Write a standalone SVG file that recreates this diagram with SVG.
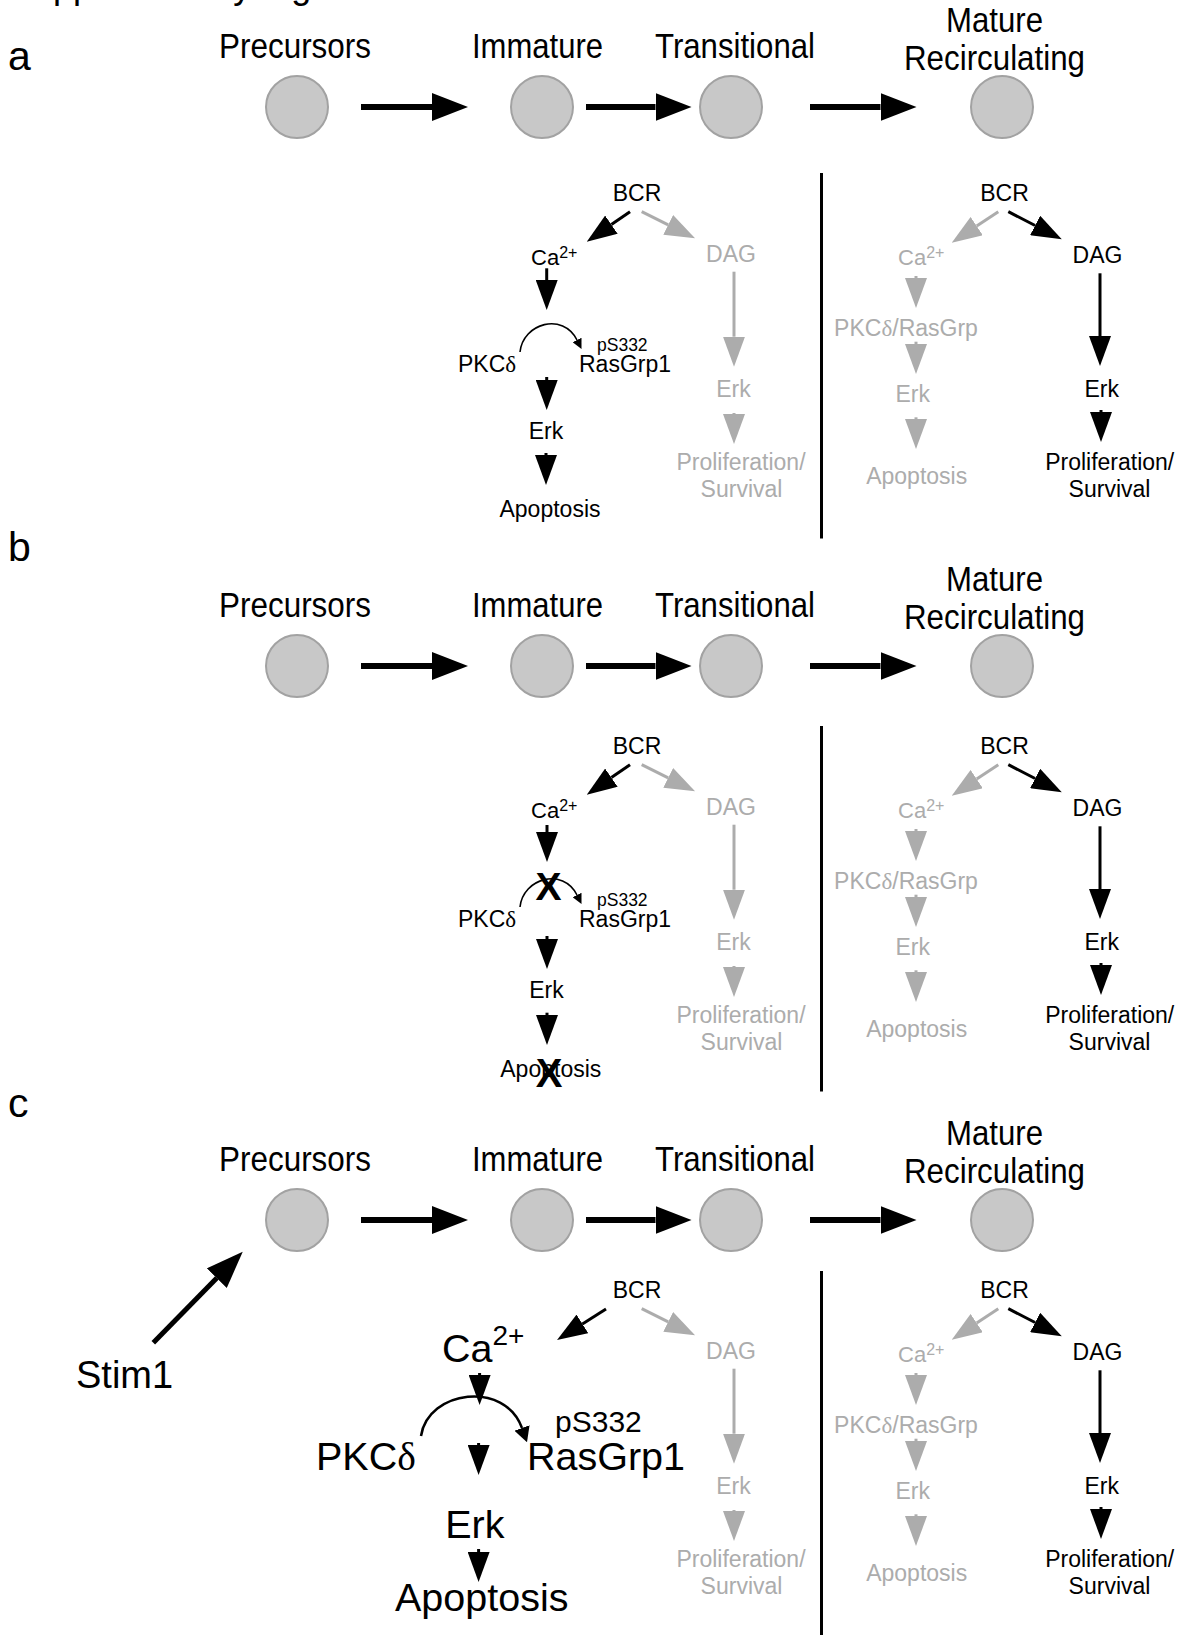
<svg xmlns="http://www.w3.org/2000/svg" width="1181" height="1635" viewBox="0 0 1181 1635">
<style>
text{font-family:"Liberation Sans",Arial,Helvetica,sans-serif;fill:#000}
.stage{font-size:35px}
.lab{font-size:41px}
.s{font-size:23px}
.sup{font-size:16px}
.sm{font-size:17.5px}
.big{font-size:39.5px}
.bsup{font-size:28px}
.gr{fill:#acacac}
.mid{text-anchor:middle}
.delta{font-family:"Liberation Serif","Times New Roman",serif}
.xm{font-size:39px;font-weight:bold;text-anchor:middle}
.cell{fill:#c8c8c8;stroke:#a2a2a2;stroke-width:2}
.top{stroke:#000;stroke-width:6;fill:none}
.k{stroke:#000;stroke-width:3;fill:none}
.g{stroke:#acacac;stroke-width:3;fill:none}
.cv{stroke:#000;stroke-width:1.6;fill:none}
.cvb{stroke:#000;stroke-width:2.5;fill:none}
.div{stroke:#000;stroke-width:3}
</style>
<defs>
<marker id="hTop" markerUnits="userSpaceOnUse" markerWidth="36" markerHeight="28" refX="0" refY="14" orient="auto"><path d="M0,0 L36,14 L0,28 Z" fill="#000"/></marker>
<marker id="hK" markerUnits="userSpaceOnUse" markerWidth="30" markerHeight="22" refX="0" refY="11" orient="auto"><path d="M0,0 L30,11 L0,22 Z" fill="#000"/></marker>
<marker id="hG" markerUnits="userSpaceOnUse" markerWidth="30" markerHeight="22" refX="0" refY="11" orient="auto"><path d="M0,0 L30,11 L0,22 Z" fill="#acacac"/></marker>
<marker id="hS" markerUnits="userSpaceOnUse" markerWidth="10" markerHeight="10" refX="0" refY="5" orient="auto"><path d="M0,0 L10,5 L0,10 Z" fill="#000"/></marker>
<marker id="hSB" markerUnits="userSpaceOnUse" markerWidth="15" markerHeight="16" refX="0" refY="8" orient="auto"><path d="M0,0 L15,8 L0,16 Z" fill="#000"/></marker>
<marker id="hStim" markerUnits="userSpaceOnUse" markerWidth="37" markerHeight="28" refX="0" refY="14" orient="auto"><path d="M0,0 L37,14 L0,28 Z" fill="#000"/></marker>
</defs>

<text x="9" y="-2" style="font-size:36px">Supplementary Figure</text>

<!-- ================= PANEL A ================= -->
<g id="panel-a">
<text class="lab" x="8" y="69.5">a</text>
<g id="a-precursors"><circle class="cell" cx="297" cy="107" r="31"/><text class="stage" x="219" y="58" textLength="152" lengthAdjust="spacingAndGlyphs">Precursors</text></g>
<g id="a-immature"><circle class="cell" cx="542" cy="107" r="31"/><text class="stage" x="472" y="58" textLength="131" lengthAdjust="spacingAndGlyphs">Immature</text></g>
<g id="a-transitional"><circle class="cell" cx="731" cy="107" r="31"/><text class="stage" x="655" y="58" textLength="160" lengthAdjust="spacingAndGlyphs">Transitional</text></g>
<g id="a-mature"><circle class="cell" cx="1002" cy="107" r="31"/><text class="stage" x="946" y="32" textLength="97" lengthAdjust="spacingAndGlyphs">Mature</text><text class="stage" x="904" y="70" textLength="181" lengthAdjust="spacingAndGlyphs">Recirculating</text></g>

<g id="a-left">
<g id="a-bcr1"><text class="s mid" x="637" y="201">BCR</text></g>
<g id="a-ca1"><text class="s" x="531" y="265" style="font-size:22px">Ca<tspan class="sup" dy="-7">2+</tspan></text></g>
<g id="a-dag1"><text class="s mid gr" x="731" y="262">DAG</text></g>
<g id="a-pkc1"><text class="s" x="458" y="372">PKC<tspan class="delta">δ</tspan></text></g>
<g id="a-rasgrp1"><text class="sm" x="597" y="350.5">pS332</text><text class="s" x="579" y="372">RasGrp1</text></g>
<g id="a-erk1"><text class="s mid" x="546" y="438.5">Erk</text></g>
<g id="a-apo1"><text class="s mid" x="550" y="517">Apoptosis</text></g>
<g id="a-erk2"><text class="s mid gr" x="733.5" y="397">Erk</text></g>
<g id="a-prol1"><text class="s mid gr" x="741" y="470">Proliferation/</text><text class="s mid gr" x="741.5" y="497">Survival</text></g>
</g>
<g id="a-right">
<g id="a-bcr2"><text class="s mid" x="1004.5" y="201">BCR</text></g>
<g id="a-ca2"><text class="s gr" x="898" y="265" style="font-size:22px">Ca<tspan class="sup" dy="-7">2+</tspan></text></g>
<g id="a-dag2"><text class="s mid" x="1097.5" y="263">DAG</text></g>
<g id="a-pkcras"><text class="s mid gr" x="906" y="336">PKC<tspan class="delta">δ</tspan>/RasGrp</text></g>
<g id="a-erk3"><text class="s mid gr" x="912.7" y="402">Erk</text></g>
<g id="a-apo2"><text class="s mid gr" x="916.7" y="483.5">Apoptosis</text></g>
<g id="a-erk4"><text class="s mid" x="1101.7" y="397">Erk</text></g>
<g id="a-prol2"><text class="s mid" x="1109.7" y="470">Proliferation/</text><text class="s mid" x="1109.5" y="497">Survival</text></g>
</g>
<g id="a-connectors">
<path class="top" d="M361,107 H432" marker-end="url(#hTop)"/>
<path class="top" d="M586,107 H655.5" marker-end="url(#hTop)"/>
<path class="top" d="M810,107 H880.5" marker-end="url(#hTop)"/>
<path class="k" d="M630,211.7 L611.4,224.6" marker-end="url(#hK)"/>
<path class="g" d="M641.7,211.7 L668.2,224.9" marker-end="url(#hG)"/>
<path class="k" d="M546.7,268.3 V280" marker-end="url(#hK)"/>
<path class="cv" d="M520,352 C523,323 563,312 577,340" marker-end="url(#hS)"/>
<path class="k" d="M546.7,377 V380" marker-end="url(#hK)"/>
<path class="k" d="M546,453 V455" marker-end="url(#hK)"/>
<path class="g" d="M734,271.7 V336.7" marker-end="url(#hG)"/>
<path class="g" d="M734,413 V414" marker-end="url(#hG)"/>
<path class="div" d="M821.5,173 V538.5"/>
<path class="g" d="M998.3,211.7 L976.7,226.1" marker-end="url(#hG)"/>
<path class="k" d="M1008.3,211.7 L1035.1,225.5" marker-end="url(#hK)"/>
<path class="g" d="M916,276 V278" marker-end="url(#hG)"/>
<path class="g" d="M916,341.7 V344" marker-end="url(#hG)"/>
<path class="g" d="M916,417.3 V419" marker-end="url(#hG)"/>
<path class="k" d="M1100,273.3 V336" marker-end="url(#hK)"/>
<path class="k" d="M1101,410 V412" marker-end="url(#hK)"/>
</g>
</g>

<!-- ================= PANEL B ================= -->
<g id="panel-b">
<text class="lab" x="8" y="561">b</text>
<g id="b-precursors"><circle class="cell" cx="297" cy="666" r="31"/><text class="stage" x="219" y="617" textLength="152" lengthAdjust="spacingAndGlyphs">Precursors</text></g>
<g id="b-immature"><circle class="cell" cx="542" cy="666" r="31"/><text class="stage" x="472" y="617" textLength="131" lengthAdjust="spacingAndGlyphs">Immature</text></g>
<g id="b-transitional"><circle class="cell" cx="731" cy="666" r="31"/><text class="stage" x="655" y="617" textLength="160" lengthAdjust="spacingAndGlyphs">Transitional</text></g>
<g id="b-mature"><circle class="cell" cx="1002" cy="666" r="31"/><text class="stage" x="946" y="591" textLength="97" lengthAdjust="spacingAndGlyphs">Mature</text><text class="stage" x="904" y="629" textLength="181" lengthAdjust="spacingAndGlyphs">Recirculating</text></g>
<g transform="translate(0,553)">
<g id="b-left">
<g id="b-bcr1"><text class="s mid" x="637" y="201">BCR</text></g>
<g id="b-ca1"><text class="s" x="531" y="265" style="font-size:22px">Ca<tspan class="sup" dy="-7">2+</tspan></text></g>
<g id="b-dag1"><text class="s mid gr" x="731" y="262">DAG</text></g>
<g id="b-pkc1"><text class="s" x="458" y="374">PKC<tspan class="delta">δ</tspan></text></g>
<g id="b-rasgrp1"><text class="sm" x="597" y="352.5">pS332</text><text class="s" x="579" y="374">RasGrp1</text></g>
<g id="b-x1"><text class="xm" x="548.5" y="347">X</text></g>
<g id="b-erk1"><text class="s mid" x="546.5" y="445.3">Erk</text></g>
<g id="b-apo1"><text class="s mid" x="550.8" y="523.7">Apoptosis</text></g>
<g id="b-x2"><text class="xm" x="549" y="533.7" style="font-size:40px">X</text></g>
<g id="b-erk2"><text class="s mid gr" x="733.5" y="397">Erk</text></g>
<g id="b-prol1"><text class="s mid gr" x="741" y="470">Proliferation/</text><text class="s mid gr" x="741.5" y="497">Survival</text></g>
</g>
<g id="b-right">
<g id="b-bcr2"><text class="s mid" x="1004.5" y="201">BCR</text></g>
<g id="b-ca2"><text class="s gr" x="898" y="265" style="font-size:22px">Ca<tspan class="sup" dy="-7">2+</tspan></text></g>
<g id="b-dag2"><text class="s mid" x="1097.5" y="263">DAG</text></g>
<g id="b-pkcras"><text class="s mid gr" x="906" y="336">PKC<tspan class="delta">δ</tspan>/RasGrp</text></g>
<g id="b-erk3"><text class="s mid gr" x="912.7" y="402">Erk</text></g>
<g id="b-apo2"><text class="s mid gr" x="916.7" y="483.5">Apoptosis</text></g>
<g id="b-erk4"><text class="s mid" x="1101.7" y="397">Erk</text></g>
<g id="b-prol2"><text class="s mid" x="1109.7" y="470">Proliferation/</text><text class="s mid" x="1109.5" y="497">Survival</text></g>
</g>
<g id="b-connectors">
<path class="k" d="M630,211.7 L611.4,224.6" marker-end="url(#hK)"/>
<path class="g" d="M641.7,211.7 L668.2,224.9" marker-end="url(#hG)"/>
<path class="k" d="M547,272 V279" marker-end="url(#hK)"/>
<path class="cv" d="M520,354 C523,325 563,314 577,342" marker-end="url(#hS)"/>
<path class="k" d="M547,383 V386" marker-end="url(#hK)"/>
<path class="k" d="M547,459.7 V462" marker-end="url(#hK)"/>
<path class="g" d="M734,271.7 V336.7" marker-end="url(#hG)"/>
<path class="g" d="M734,413 V414" marker-end="url(#hG)"/>
<path class="div" d="M821.5,173 V538.5"/>
<path class="g" d="M998.3,211.7 L976.7,226.1" marker-end="url(#hG)"/>
<path class="k" d="M1008.3,211.7 L1035.1,225.5" marker-end="url(#hK)"/>
<path class="g" d="M916,276 V278" marker-end="url(#hG)"/>
<path class="g" d="M916,341.7 V344" marker-end="url(#hG)"/>
<path class="g" d="M916,417.3 V419" marker-end="url(#hG)"/>
<path class="k" d="M1100,273.3 V336" marker-end="url(#hK)"/>
<path class="k" d="M1101,410 V412" marker-end="url(#hK)"/>
</g>
</g>
<g id="b-top-connectors">
<path class="top" d="M361,666 H432" marker-end="url(#hTop)"/>
<path class="top" d="M586,666 H655.5" marker-end="url(#hTop)"/>
<path class="top" d="M810,666 H880.5" marker-end="url(#hTop)"/>
</g>
</g>

<!-- ================= PANEL C ================= -->
<g id="panel-c">
<text class="lab" x="8" y="1117">c</text>
<g id="c-precursors"><circle class="cell" cx="297" cy="1220" r="31"/><text class="stage" x="219" y="1171" textLength="152" lengthAdjust="spacingAndGlyphs">Precursors</text></g>
<g id="c-immature"><circle class="cell" cx="542" cy="1220" r="31"/><text class="stage" x="472" y="1171" textLength="131" lengthAdjust="spacingAndGlyphs">Immature</text></g>
<g id="c-transitional"><circle class="cell" cx="731" cy="1220" r="31"/><text class="stage" x="655" y="1171" textLength="160" lengthAdjust="spacingAndGlyphs">Transitional</text></g>
<g id="c-mature"><circle class="cell" cx="1002" cy="1220" r="31"/><text class="stage" x="946" y="1145" textLength="97" lengthAdjust="spacingAndGlyphs">Mature</text><text class="stage" x="904" y="1183" textLength="181" lengthAdjust="spacingAndGlyphs">Recirculating</text></g>
<g id="c-stim1"><text x="76" y="1388" style="font-size:38px">Stim1</text></g>
<g id="c-left">
<g id="c-ca1"><text class="big" x="442" y="1362">Ca<tspan class="bsup" dy="-17">2+</tspan></text></g>
<g id="c-pkc1"><text class="big" x="316" y="1470">PKC<tspan class="delta">δ</tspan></text></g>
<g id="c-rasgrp1"><text x="555" y="1432" style="font-size:30px">pS332</text><text class="big" x="527" y="1470">RasGrp1</text></g>
<g id="c-erk1"><text class="big mid" x="474.8" y="1538">Erk</text></g>
<g id="c-apo1"><text class="big mid" x="481.7" y="1611">Apoptosis</text></g>
</g>
<g transform="translate(0,1097)">
<g id="c-mid">
<g id="c-bcr1"><text class="s mid" x="637" y="201">BCR</text></g>
<g id="c-dag1"><text class="s mid gr" x="731" y="262">DAG</text></g>
<g id="c-erk2"><text class="s mid gr" x="733.5" y="397">Erk</text></g>
<g id="c-prol1"><text class="s mid gr" x="741" y="470">Proliferation/</text><text class="s mid gr" x="741.5" y="497">Survival</text></g>
</g>
<g id="c-right">
<g id="c-bcr2"><text class="s mid" x="1004.5" y="201">BCR</text></g>
<g id="c-ca2"><text class="s gr" x="898" y="265" style="font-size:22px">Ca<tspan class="sup" dy="-7">2+</tspan></text></g>
<g id="c-dag2"><text class="s mid" x="1097.5" y="263">DAG</text></g>
<g id="c-pkcras"><text class="s mid gr" x="906" y="336">PKC<tspan class="delta">δ</tspan>/RasGrp</text></g>
<g id="c-erk3"><text class="s mid gr" x="912.7" y="402">Erk</text></g>
<g id="c-apo2"><text class="s mid gr" x="916.7" y="483.5">Apoptosis</text></g>
<g id="c-erk4"><text class="s mid" x="1101.7" y="397">Erk</text></g>
<g id="c-prol2"><text class="s mid" x="1109.7" y="470">Proliferation/</text><text class="s mid" x="1109.5" y="497">Survival</text></g>
</g>
<g id="c-connectors-shifted">
<path class="g" d="M641.7,211.7 L668.2,224.9" marker-end="url(#hG)"/>
<path class="g" d="M734,271.7 V336.7" marker-end="url(#hG)"/>
<path class="g" d="M734,413 V414" marker-end="url(#hG)"/>
<path class="div" d="M821.5,174 V538.5"/>
<path class="g" d="M998.3,211.7 L976.7,226.1" marker-end="url(#hG)"/>
<path class="k" d="M1008.3,211.7 L1035.1,225.5" marker-end="url(#hK)"/>
<path class="g" d="M916,276 V278" marker-end="url(#hG)"/>
<path class="g" d="M916,341.7 V344" marker-end="url(#hG)"/>
<path class="g" d="M916,417.3 V419" marker-end="url(#hG)"/>
<path class="k" d="M1100,273.3 V336" marker-end="url(#hK)"/>
<path class="k" d="M1101,410 V412" marker-end="url(#hK)"/>
</g>
</g>
<g id="c-connectors">
<path class="top" d="M361,1220 H432" marker-end="url(#hTop)"/>
<path class="top" d="M586,1220 H655.5" marker-end="url(#hTop)"/>
<path class="top" d="M810,1220 H880.5" marker-end="url(#hTop)"/>
<path style="stroke:#000;stroke-width:5;fill:none" d="M153.3,1342.7 L216.8,1278.1" marker-end="url(#hStim)"/>
<path class="k" d="M606,1309 L582.4,1323.9" marker-end="url(#hK)"/>
<path class="k" d="M479.6,1373 V1375" marker-end="url(#hK)"/>
<path class="cvb" d="M421,1436 C428,1390 505,1380 522,1428" marker-end="url(#hSB)"/>
<path class="k" d="M478.6,1443 V1445" marker-end="url(#hK)"/>
<path class="k" d="M478.6,1549 V1552" marker-end="url(#hK)"/>
</g>
</g>
</svg>
